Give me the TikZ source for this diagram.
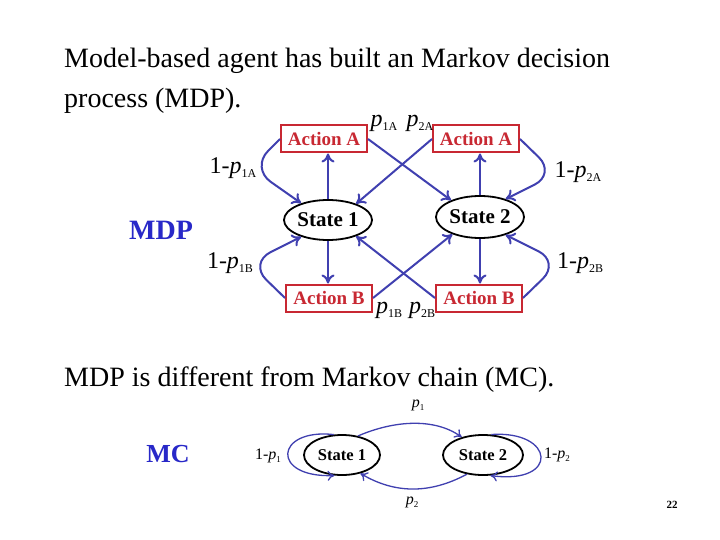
\documentclass[tikz,border=0pt]{standalone}
\usepackage{fontspec}
\setmainfont{Liberation Serif}
\usetikzlibrary{shapes.geometric,arrows.meta}
\definecolor{arrblue}{RGB}{64,64,176}
\definecolor{boxred}{RGB}{200,40,50}
\definecolor{titleblue}{RGB}{40,40,200}
\newcommand{\plabel}[1]{\textit{p}\raisebox{-4pt}{\fontsize{12}{14}\selectfont #1}}
\newcommand{\qlabel}[1]{\textit{p}\raisebox{-3pt}{\fontsize{9}{10}\selectfont #1}}
\begin{document}
\begin{tikzpicture}[x=1pt,y=-1pt,
  arr/.style={draw=arrblue,line width=2pt,-{To[length=9pt,width=13pt]}},
  marr/.style={draw=arrblue,line width=1.3pt,-{To[length=7pt,width=10pt]}},
  statenode/.style={draw=black,line width=1.8pt,ellipse,inner sep=0pt,font=\fontsize{21}{24}\selectfont\bfseries},
  actbox/.style={draw=boxred,line width=2pt,rectangle,inner sep=0pt,minimum width=86pt,minimum height=27pt,text=boxred,font=\fontsize{19}{22}\selectfont\bfseries},
  plab/.style={font=\fontsize{24}{26}\selectfont,inner sep=0pt},
  mclab/.style={font=\fontsize{16}{18}\selectfont,inner sep=0pt},
  bigtext/.style={font=\fontsize{28}{32}\selectfont,inner sep=0pt,anchor=base west}
]
\useasboundingbox (0,0) rectangle (720,540);
\fill[white] (0,0) rectangle (720,540);

% text
\node[bigtext] (t1) at (64,68) {Model-based agent has built an Markov decision};
\node[bigtext] (t2) at (64,108) {process (MDP).};
\node[bigtext] (t3) at (64,386) {MDP is different from Markov chain (MC).};
\node[font=\fontsize{28}{30}\selectfont\bfseries,text=titleblue,inner sep=0pt] (mdp) at (161,230) {MDP};
\node[font=\fontsize{26}{30}\selectfont\bfseries,text=titleblue,inner sep=0pt] (mc) at (168,454) {MC};
\node[font=\fontsize{11}{13}\selectfont\bfseries,inner sep=0pt] (pg) at (672,505) {22};

% MDP nodes
\node[statenode,minimum width=88pt,minimum height=40pt] (s1) at (328,220) {State 1};
\node[statenode,minimum width=88pt,minimum height=42pt] (s2) at (480,217) {State 2};
\node[actbox] (aA1) at (324,139) {Action A};
\node[actbox] (aA2) at (476,139) {Action A};
\node[actbox] (aB1) at (329,298) {Action B};
\node[actbox] (aB2) at (479,298) {Action B};

% loop corner points
\coordinate (c1) at (251,168);
\coordinate (c2) at (556,174);
\coordinate (c3) at (249,263);
\coordinate (c4) at (560,262);

% vertical arrows
\draw[arr] (s1.north) -- (s1.north |- aA1.south);
\draw[arr] (s1.south) -- (s1.south |- aB1.north);
\draw[arr] (s2.north) -- (s2.north |- aA2.south);
\draw[arr] (s2.south) -- (s2.south |- aB2.north);

% cross arrows
\draw[arr] (aA1.east) -- (s2.150);
\draw[arr] (aA2.west) -- (s1.30);
\draw[arr] (aB1.east) -- (s2.212);
\draw[arr] (aB2.west) -- (s1.-30);

% loops
\draw[arr,rounded corners=24pt] (aA1.west) -- (c1) -- (s1.148);
\draw[arr,rounded corners=24pt] (aA2.east) -- (c2) -- (s2.35);
\draw[arr,rounded corners=24pt] (aB1.west) -- (c3) -- (s1.212);
\draw[arr,rounded corners=24pt] (aB2.east) -- (c4) -- (s2.-35);

% labels
\node[plab] (l1) at (384,123) {\plabel{1A}};
\node[plab] (l2) at (420,123) {\plabel{2A}};
\node[plab] (l3) at (233,168) {1-\plabel{1A}};
\node[plab] (l4) at (578,172) {1-\plabel{2A}};
\node[plab] (l5) at (230,263) {1-\plabel{1B}};
\node[plab] (l6) at (580,263) {1-\plabel{2B}};
\node[plab] (l7) at (389,310) {\plabel{1B}};
\node[plab] (l8) at (422,310) {\plabel{2B}};

% MC
\node[statenode,minimum width=76pt,minimum height=40pt,font=\fontsize{16.5}{18}\selectfont\bfseries] (m1) at (342,455) {State 1};
\node[statenode,minimum width=80pt,minimum height=40pt,font=\fontsize{16.5}{18}\selectfont\bfseries] (m2) at (483,455) {State 2};
\draw[marr] (m1.50) .. controls (395,420) and (435,418) .. (m2.140);
\draw[marr] (m2.-130) .. controls (430,494) and (395,494) .. (m1.-45);
\draw[marr] (m1.112) .. controls (275,428) and (270,478) .. (m1.-110);
\draw[marr] (m2.68) .. controls (555,430) and (560,485) .. (m2.-70);
\node[mclab] (q1) at (418,405) {\qlabel{1}};
\node[mclab] (q2) at (412,502) {\qlabel{2}};
\node[mclab] (q3) at (268,456) {1-\qlabel{1}};
\node[mclab] (q4) at (557,455) {1-\qlabel{2}};
\end{tikzpicture}
\end{document}
